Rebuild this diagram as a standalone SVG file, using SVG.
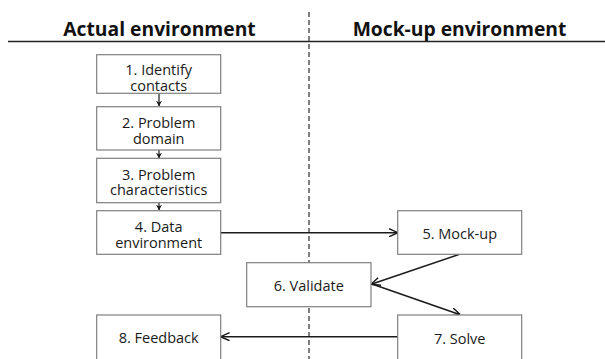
<svg xmlns="http://www.w3.org/2000/svg" width="605" height="359" viewBox="0 0 605 359">
  <defs>
    <marker id="arrow" viewBox="0 0 10 10" refX="9" refY="5" markerWidth="6" markerHeight="6" orient="auto-start-reverse" markerUnits="userSpaceOnUse">
      <path d="M0,0 L10,5 L0,10 L3,5 Z" fill="#1a1a1a"/>
    </marker>
    <marker id="arrow-lg" viewBox="0 0 10 10" refX="9" refY="5" markerWidth="9" markerHeight="9" orient="auto" markerUnits="userSpaceOnUse">
      <path d="M0,0.5 L10,5 L0,9.5" fill="none" stroke="#1a1a1a" stroke-width="1.6"/>
    </marker>
  </defs>
  <style>
    .box { fill: #ffffff; stroke: #7f7f7f; stroke-width: 1.2; }
    .label { font-family: "Open Sans", Lato, "Liberation Sans", sans-serif; font-size: 14.5px; fill: #1a1a1a; text-anchor: middle; }
    .title { font-family: "Open Sans", Lato, "Liberation Sans", sans-serif; font-size: 19.3px; font-weight: bold; fill: #111111; text-anchor: middle; }
    .link { stroke: #1a1a1a; stroke-width: 1.5; fill: none; }
    .step { stroke: #1a1a1a; stroke-width: 1.2; fill: none; }
    .divider { stroke: #555555; stroke-width: 1.5; stroke-dasharray: 5 3; }
  </style>

  <!-- header -->
  <g id="header">
    <text class="title" x="159.5" y="36">Actual environment</text>
    <text class="title" x="459.5" y="36">Mock-up environment</text>
    <line x1="8" y1="41.6" x2="605" y2="41.6" stroke="#222222" stroke-width="1.5"/>
    <line class="divider" x1="309" y1="12" x2="309" y2="359"/>
  </g>

  <!-- connectors -->
  <g id="connectors">
    <line class="step" x1="159" y1="93.5" x2="159" y2="106" marker-end="url(#arrow)"/>
    <line class="step" x1="159" y1="150" x2="159" y2="158" marker-end="url(#arrow)"/>
    <line class="step" x1="159" y1="202.5" x2="159" y2="210" marker-end="url(#arrow)"/>
    <line class="link" x1="221" y1="232.7" x2="397" y2="232.7" marker-end="url(#arrow-lg)"/>
    <line class="link" x1="459.5" y1="254.3" x2="372" y2="284" marker-end="url(#arrow-lg)"/>
    <line class="link" x1="372" y1="284" x2="459.5" y2="314.5" marker-end="url(#arrow-lg)"/>
    <line class="link" x1="397.7" y1="336.7" x2="221.5" y2="336.7" marker-end="url(#arrow-lg)"/>
  </g>

  <g id="n1">
    <rect class="box" x="96.7" y="54.7" width="124" height="38.6"/>
    <text class="label" x="158.7" y="75.3">1. Identify</text>
    <text class="label" x="158.7" y="90.8">contacts</text>
  </g>
  <g id="n2">
    <rect class="box" x="96.7" y="106.7" width="124" height="43.3"/>
    <text class="label" x="158.7" y="128">2. Problem</text>
    <text class="label" x="158.7" y="143.8">domain</text>
  </g>
  <g id="n3">
    <rect class="box" x="96.7" y="158.3" width="124" height="44.4"/>
    <text class="label" x="158.7" y="179.6">3. Problem</text>
    <text class="label" x="158.7" y="195.4">characteristics</text>
  </g>
  <g id="n4">
    <rect class="box" x="96.7" y="210.7" width="124" height="43.6"/>
    <text class="label" x="158.7" y="232">4. Data</text>
    <text class="label" x="158.7" y="247.8">environment</text>
  </g>
  <g id="n5">
    <rect class="box" x="397.7" y="210.7" width="124" height="43.6"/>
    <text class="label" x="459.7" y="239.3">5. Mock-up</text>
  </g>
  <g id="n6">
    <rect class="box" x="246.7" y="262.7" width="124.3" height="44"/>
    <text class="label" x="308.8" y="290.7">6. Validate</text>
  </g>
  <g id="n7">
    <rect class="box" x="397.7" y="315" width="124" height="46"/>
    <text class="label" x="459.7" y="344">7. Solve</text>
  </g>
  <g id="n8">
    <rect class="box" x="96.7" y="315" width="124" height="46"/>
    <text class="label" x="158.7" y="343.3">8. Feedback</text>
  </g>
</svg>
